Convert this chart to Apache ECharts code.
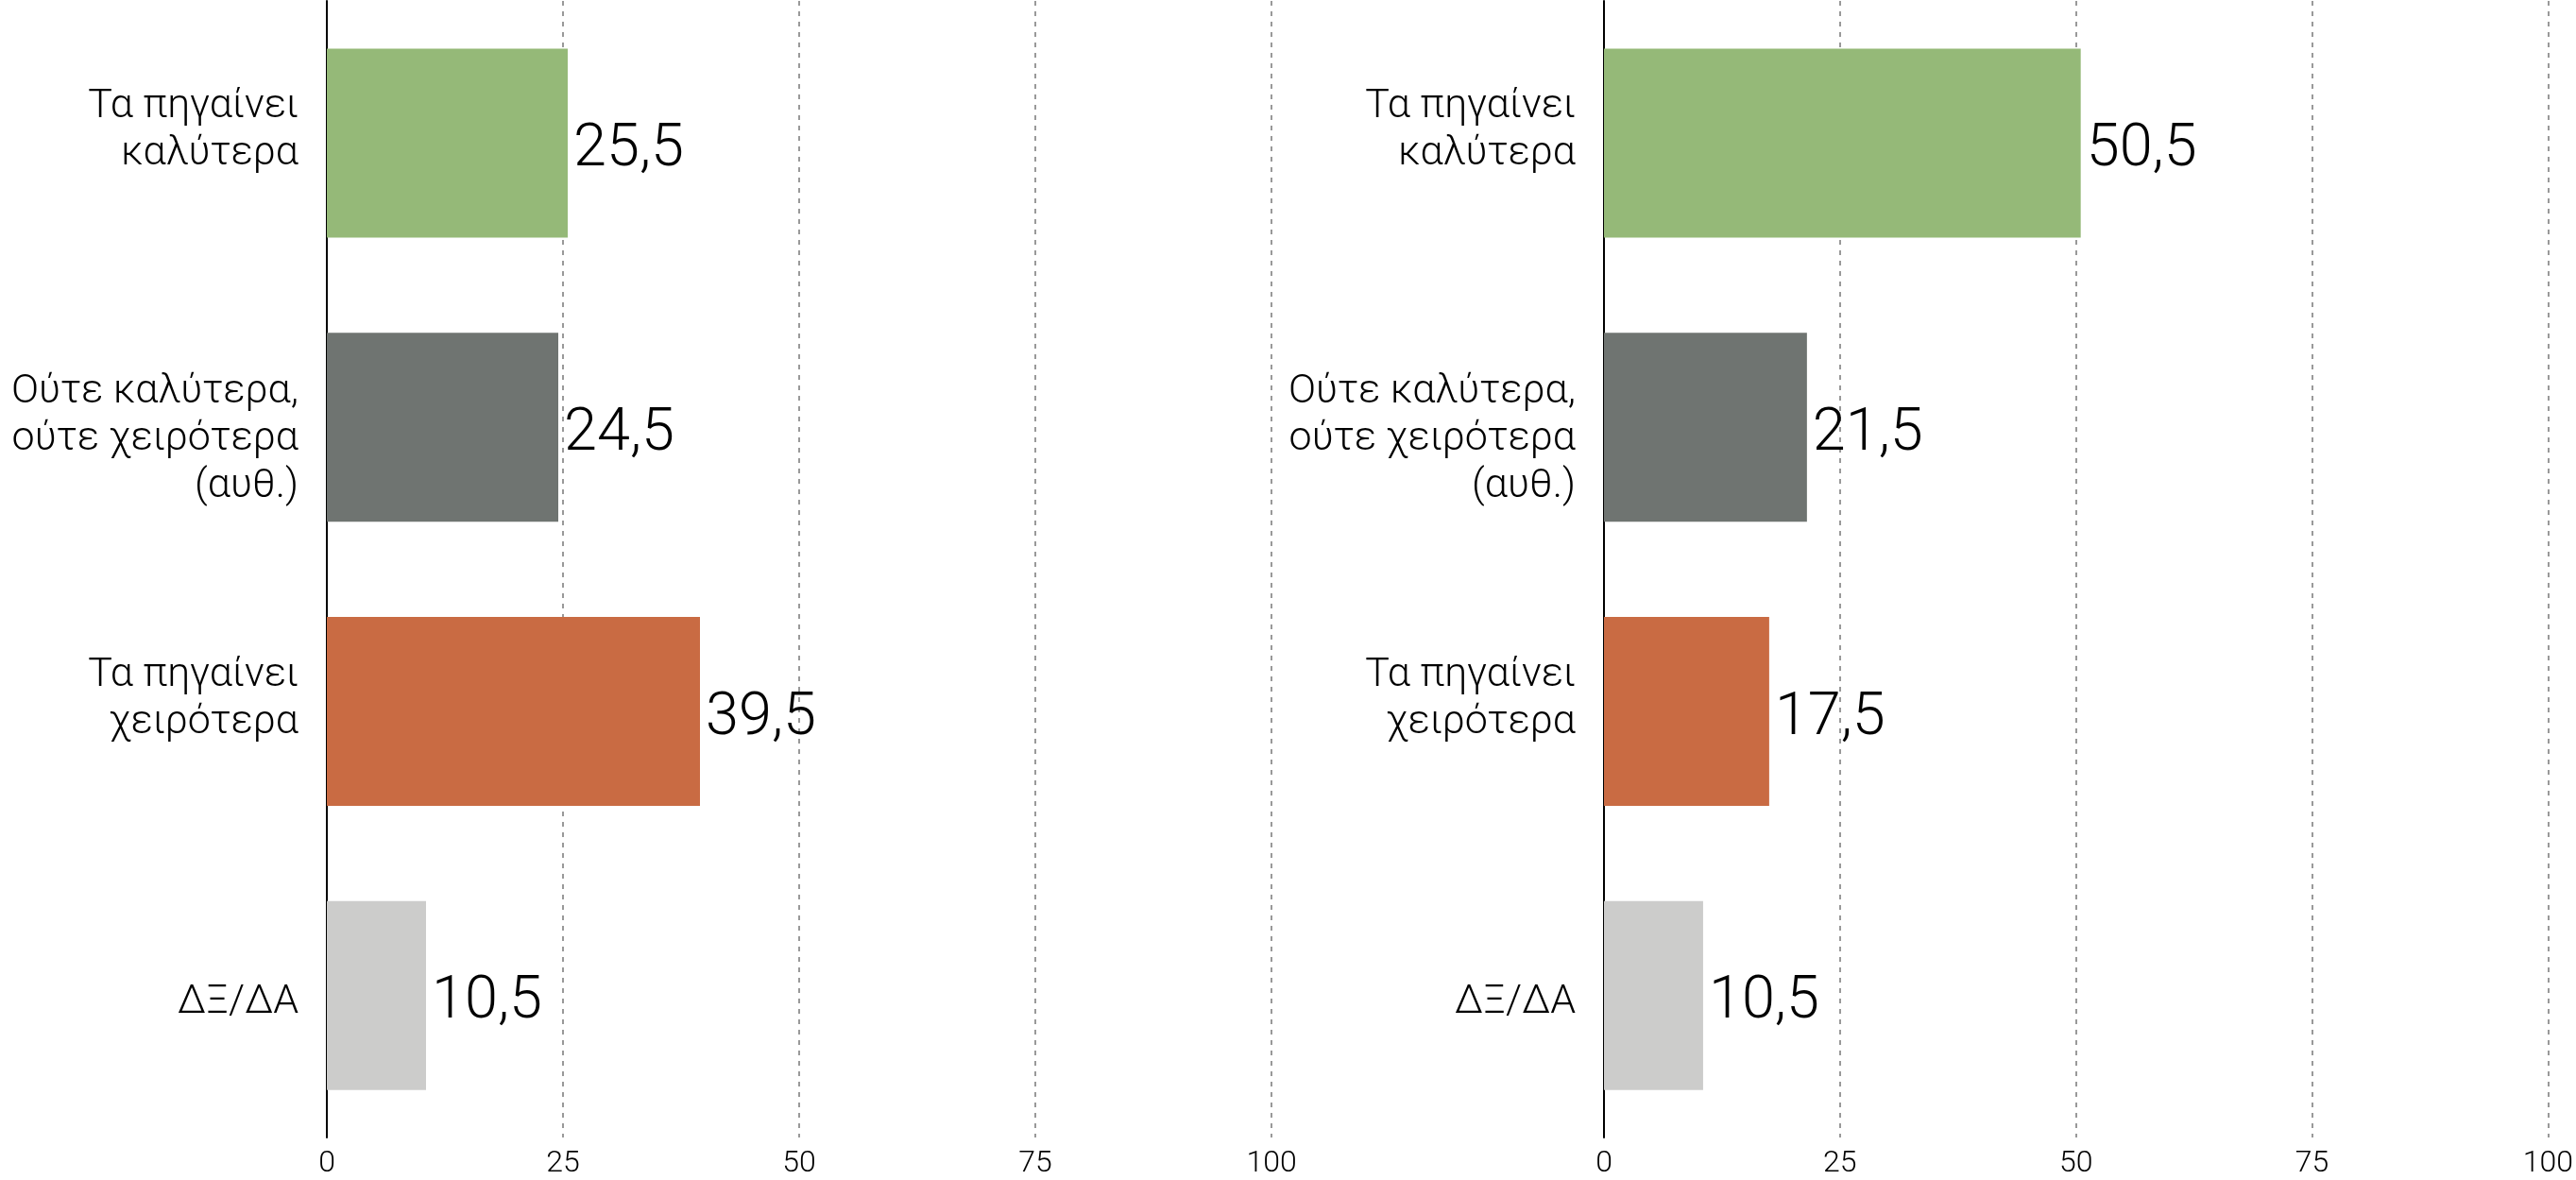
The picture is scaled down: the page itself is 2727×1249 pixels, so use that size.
<!DOCTYPE html>
<html>
<head>
<meta charset="utf-8">
<script src="https://cdn.jsdelivr.net/npm/echarts@6/dist/echarts.min.js"></script>
<style>
  html, body { margin: 0; padding: 0; background: #fff; }
  #chart { width: 2727px; height: 1249px; }
</style>
</head>
<body>
<div id="chart"></div>
<script>
const categories = [
  'Τα πηγαίνει\nκαλύτερα',
  'Ούτε καλύτερα,\nούτε χειρότερα\n(αυθ.)',
  'Τα πηγαίνει\nχειρότερα',
  'ΔΞ/ΔΑ'
]
const leftValues = [25.5, 24.5, 39.5, 10.5]
const rightValues = [50.5, 21.5, 17.5, 10.5]
const barColors = ['#95b978', '#6f7471', '#c96b43', '#cccccb']
const xTicks = [0, 25, 50, 75, 100]

const font = 'Roboto, "Liberation Sans", sans-serif'
const chartDom = document.getElementById('chart')
const myChart = echarts.init(chartDom)

function makeData(values) {
  return values.map((v, i) => ({ value: v, itemStyle: { color: barColors[i] } }))
}

// nudge the label blocks the way the original sits them:
// two-line ones a bit up, three-line and single ones a bit down
function categoryLabel(text) {
  const n = text.split('\n').length
  if (n === 2) return text + '\n{up| }'
  if (n === 3) return '{up| }\n' + text
  return '{sm| }\n' + text
}

function xAxisFor(gridIndex) {
  return {
    type: 'value',
    gridIndex: gridIndex,
    min: xTicks[0],
    max: xTicks[xTicks.length - 1],
    interval: 25,
    axisLine: { show: false },
    axisTick: { show: false },
    axisLabel: {
      color: '#000',
      fontSize: 32,
      fontFamily: font,
      fontWeight: 300,
      margin: 12,
    },
    splitLine: {
      show: true,
      lineStyle: { color: '#999', width: 2, type: [5, 6] },
    },
  }
}

function yAxisFor(gridIndex) {
  return {
    type: 'category',
    gridIndex: gridIndex,
    inverse: true,
    data: categories,
    axisLine: { show: true, lineStyle: { color: '#000', width: 2 } },
    axisTick: { show: false },
    axisLabel: {
      color: '#000',
      fontSize: 43,
      lineHeight: 50,
      fontFamily: font,
      fontWeight: 300,
      align: 'right',
      margin: 30,
      formatter: categoryLabel,
      rich: {
        up: { fontSize: 2, lineHeight: 26 },
        sm: { fontSize: 2, lineHeight: 16 },
      },
    },
    splitLine: { show: false },
  }
}

function seriesFor(index, values) {
  return {
    type: 'bar',
    xAxisIndex: index,
    yAxisIndex: index,
    data: makeData(values),
    barWidth: 200,
    label: {
      show: true,
      position: 'right',
      distance: 6,
      offset: [0, 8],
      color: '#000',
      fontSize: 63,
      fontFamily: font,
      fontWeight: 300,
      formatter: p => String(p.value).replace('.', ','),
    },
    silent: true,
  }
}

const option = {
  backgroundColor: '#fff',
  animation: false,
  grid: [
    { left: 346, width: 1000, top: 1, height: 1203 },
    { left: 1698, width: 1000, top: 1, height: 1203 },
  ],
  xAxis: [xAxisFor(0), xAxisFor(1)],
  yAxis: [yAxisFor(0), yAxisFor(1)],
  series: [seriesFor(0, leftValues), seriesFor(1, rightValues)],
}
option && myChart.setOption(option)
</script>
</body>
</html>
